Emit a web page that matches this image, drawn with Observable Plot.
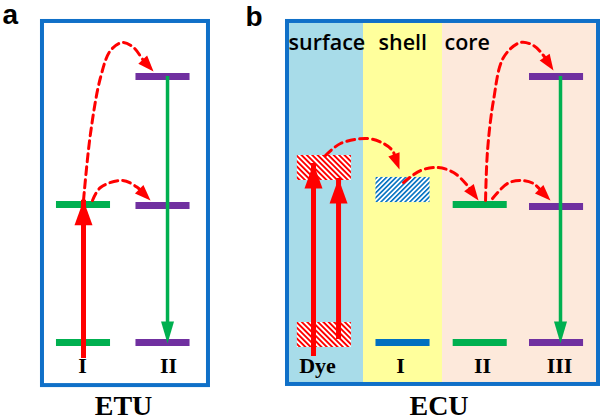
<!DOCTYPE html>
<html><head><meta charset="utf-8">
<script src="https://cdn.jsdelivr.net/npm/d3@7"></script>
<script src="https://cdn.jsdelivr.net/npm/@observablehq/plot@0.6"></script>
<style>body{margin:0;background:#fff}</style>
</head><body><div id="chart"></div>
<script>
// x: column units (ions), y: energy units (ground = 0, first excited = 1)
const panels = [
  {name: "a", c1: -0.516, c2: 1.572, E1: -0.312, E2: 2.326},
  {name: "b", c1: 2.566, c2: 6.478, E1: -0.304, E2: 2.326}
];
const regions = [
  {name: "surface", c1: 2.591, c2: 3.522, E1: -0.29, E2: 2.312, kind: "surface"},
  {name: "shell",   c1: 3.522, c2: 4.516, E1: -0.29, E2: 2.312, kind: "shell"},
  {name: "core",    c1: 4.516, c2: 6.453, E1: -0.29, E2: 2.312, kind: "core"}
];
const levels = [
  {col: 0,    E: 0,     kind: "green"},
  {col: 0,    E: 1,     kind: "green"},
  {col: 1,    E: 0,     kind: "purple"},
  {col: 1,    E: 0.993, kind: "purple"},
  {col: 1,    E: 1.928, kind: "purple"},
  {col: 4.019, E: 0,    kind: "blue"},
  {col: 4.99, E: 0,     kind: "green"},
  {col: 4.99, E: 1,     kind: "green"},
  {col: 5.95, E: 0,     kind: "purple"},
  {col: 5.95, E: 0.986, kind: "purple"},
  {col: 5.95, E: 1.928, kind: "purple"}
];
const bands = [
  {col: 3.03,  E1: 1.174,  E2: 1.355, kind: "red"},
  {col: 3.03,  E1: -0.036, E2: 0.145, kind: "red"},
  {col: 4.019, E1: 1.014,  E2: 1.196, kind: "blue"}
];
const transitions = [
  {col: 0,     from: 0,     to: 1.03,   kind: "red"},
  {col: 1.057, from: 1.928, to: -0.007, kind: "green"},
  {col: 2.893, from: 0.014, to: 1.297,  kind: "red"},
  {col: 3.208, from: 0.138, to: 1.188,  kind: "red"},
  {col: 6.0,   from: 1.928, to: -0.007, kind: "green"}
];
const transferCurves = [
  {id: "a1", c: [0, 0.088, 0.214, 0.340, 0.491, 0.629, 0.755, 0.881], E: [1.029, 1.514, 1.920, 2.116, 2.174, 2.138, 2.043, 1.964]},
  {id: "a2", c: [0.113, 0.214, 0.491, 0.679, 0.843], E: [1.029, 1.123, 1.174, 1.123, 1.029]},
  {id: "b1", c: [3.044, 3.233, 3.572, 3.774, 3.887, 3.975], E: [1.355, 1.442, 1.478, 1.442, 1.39, 1.254]},
  {id: "b2", c: [4.025, 4.239, 4.453, 4.654, 4.818, 4.969], E: [1.159, 1.246, 1.268, 1.232, 1.145, 1.029]},
  {id: "b3", c: [5.057, 5.082, 5.157, 5.283, 5.497, 5.660, 5.786, 5.912], E: [1.029, 1.391, 1.754, 2.065, 2.174, 2.152, 2.080, 1.971]},
  {id: "b4", c: [5.145, 5.333, 5.497, 5.660, 5.874], E: [1.043, 1.152, 1.174, 1.152, 1.029]}
];
const ionLabels = [
  {text: "I", col: -0.013}, {text: "II", col: 1.069},
  {text: "Dye", col: 2.943}, {text: "I", col: 3.987}, {text: "II", col: 5.019}, {text: "III", col: 5.987}
];
const panelLetters = [{text: "a", col: -1.019, E: 2.305}, {text: "b", col: 2.038, E: 2.29}];
const regionLabels = [{text: "surface", col: 2.579}, {text: "shell", col: 3.711}, {text: "core", col: 4.541}];
const captions = [{text: "ETU", col: 0.503}, {text: "ECU", col: 4.472}];

const palette = {green: "#00b050", purple: "#7030a0", blue: "#0070c0", red: "#ff0000",
  surface: "#a8dce9", shell: "#ffff9c", core: "#fde9db", frame: "#1070c8"};
const xDomain = [-1.044, 6.503], yDomain = [-0.565, 2.478];
const sx = Plot.scale({x: {domain: xDomain, range: [0, 600]}});
const sy = Plot.scale({y: {domain: yDomain, range: [420, 0]}});

function head(w, l) {
  return {draw(ctx) { ctx.moveTo(0, 0); ctx.lineTo(w / 2, l); ctx.lineTo(-w / 2, l); ctx.closePath(); }};
}
// build curve points, shortening the end under the arrow head
const curvePts = [], curveHeads = [];
for (const cv of transferCurves) {
  const n = cv.c.length;
  const px = cv.c.map(v => sx.apply(v)), py = cv.E.map(v => sy.apply(v));
  const dx = px[n-1] - px[n-2], dy = py[n-1] - py[n-2], len = Math.hypot(dx, dy);
  const ang = Math.atan2(dx, -dy) * 180 / Math.PI;
  curveHeads.push({c: cv.c[n-1], E: cv.E[n-1], angle: ang});
  for (let i = 0; i < n; i++) {
    let X = px[i], Y = py[i];
    if (i === n - 1) { X -= dx / len * 9; Y -= dy / len * 9; }
    curvePts.push({id: cv.id, c: sx.invert(X), E: sy.invert(Y)});
  }
}
const redT = transitions.filter(d => d.kind === "red"), greenT = transitions.filter(d => d.kind === "green");

const serif = "'Liberation Serif', 'Times New Roman', serif";
const plot = Plot.plot({
  width: 600, height: 420, margin: 0,
  x: {domain: xDomain, range: [0, 600], axis: null},
  y: {domain: yDomain, range: [420, 0], axis: null},
  style: {background: "#fff", overflow: "visible"},
  marks: [
    Plot.rect(regions, {x1: "c1", x2: "c2", y1: "E1", y2: "E2", fill: d => palette[d.kind]}),
    Plot.rect(panels, {x1: "c1", x2: "c2", y1: "E1", y2: "E2", fill: "none", stroke: palette.frame, strokeWidth: 4}),
    Plot.rect(bands, {x1: d => d.col - 0.34, x2: d => d.col + 0.34, y1: "E1", y2: "E2",
      fill: d => d.kind === "red" ? "url(#hatchRed)" : "url(#hatchBlue)"}),
    Plot.ruleY(levels, {y: "E", x1: d => d.col - 0.34, x2: d => d.col + 0.34, stroke: d => palette[d.kind], strokeWidth: 7}),
    Plot.ruleX(greenT, {x: "col", y1: "from", y2: "to", stroke: palette.green, strokeWidth: 3.5, insetBottom: 14}),
    Plot.dot(greenT, {x: "col", y: "to", symbol: head(13, 22), rotate: 180, fill: palette.green, stroke: "none"}),
    Plot.ruleX(redT, {x: "col", y1: "from", y2: "to", stroke: palette.red, strokeWidth: 5, insetTop: 16}),
    Plot.dot(redT, {x: "col", y: "to", symbol: head(18, 25), rotate: 0, fill: palette.red, stroke: "none"}),
    Plot.line(curvePts, {x: "c", y: "E", z: "id", curve: "catmull-rom", stroke: palette.red, strokeWidth: 3, strokeDasharray: "8,5"}),
    Plot.dot(curveHeads, {x: "c", y: "E", symbol: head(12, 16), rotate: "angle", fill: palette.red, stroke: "none"}),
    Plot.text(panelLetters, {x: "col", y: "E", text: "text", textAnchor: "start", lineAnchor: "bottom",
      fontSize: 28, fontWeight: "bold", fontFamily: "'Liberation Sans', Arial, sans-serif", fill: "#000"}),
    Plot.text(regionLabels, {x: "col", y: 2.116, text: "text", textAnchor: "start", lineAnchor: "bottom",
      fontSize: 21.5, fontWeight: 600, fontFamily: "'Open Sans', sans-serif", fill: "#000"}),
    Plot.text(ionLabels, {x: "col", y: -0.22, text: "text", lineAnchor: "bottom",
      fontSize: 22, fontWeight: "bold", fontFamily: serif, fill: "#000"}),
    Plot.text(captions, {x: "col", y: -0.528, text: "text", lineAnchor: "bottom",
      fontSize: 28, fontWeight: "bold", fontFamily: serif, fill: "#000"})
  ]
});
const svg = d3.select(plot);
const defs = svg.insert("defs", ":first-child");
const pr = defs.append("pattern").attr("id", "hatchRed").attr("patternUnits", "userSpaceOnUse")
  .attr("width", 3.8).attr("height", 4).attr("patternTransform", "rotate(-45)");
pr.append("rect").attr("width", 3.8).attr("height", 4).attr("fill", "#fff");
pr.append("rect").attr("width", 1.9).attr("height", 4).attr("fill", palette.red);
const pb = defs.append("pattern").attr("id", "hatchBlue").attr("patternUnits", "userSpaceOnUse")
  .attr("width", 3.4).attr("height", 4).attr("patternTransform", "rotate(45)");
pb.append("rect").attr("width", 3.4).attr("height", 4).attr("fill", "#fff");
pb.append("rect").attr("width", 1.6).attr("height", 4).attr("fill", palette.blue);
document.getElementById("chart").append(plot);
</script>
</body></html>
